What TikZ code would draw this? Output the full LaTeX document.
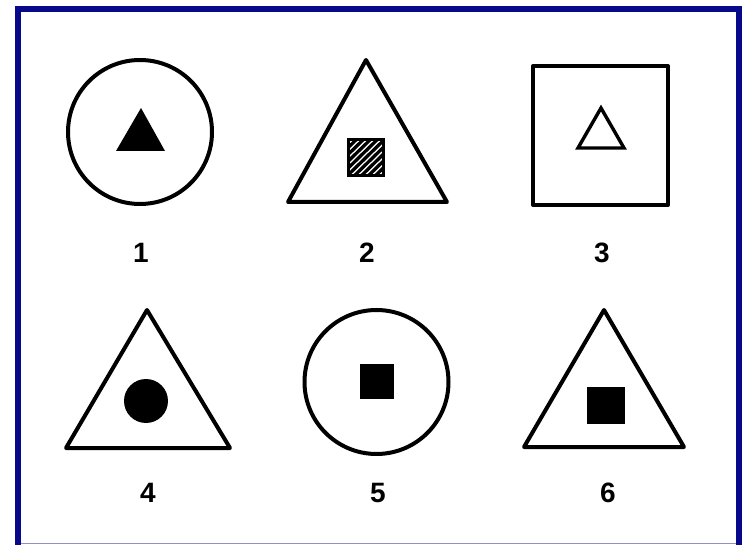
\documentclass[tikz,border=0pt]{standalone}
\usepackage{fontspec}
\setmainfont{Liberation Sans}
\usepackage{xcolor}
\usetikzlibrary{calc}
\definecolor{frameblue}{RGB}{8,8,138}

\begin{document}
\begin{tikzpicture}[x=1pt, y=-1pt,
    outline/.style={draw=black, line width=4pt, line join=round},
    solid/.style={fill=black},
    hollow/.style={draw=black, line width=3.4pt, line join=miter},
    num/.style={inner sep=0pt, font=\fontsize{28}{28}\selectfont\bfseries}
]
    \useasboundingbox (0,0) rectangle (742,545);
    \fill[white] (0,0) rectangle (742,545);
    % blue frame
    \fill[frameblue] (15,6) rectangle (742,545);
    \fill[white] (21,12) rectangle (736,545);
    \draw[frameblue!45, line width=1.3pt] (21,543.3) -- (736,543.3);

    % top row
    \draw[outline] (140,132) circle (72);
    \fill[solid] (116,151) -- (165,151) -- (141,108) -- cycle;

    \draw[outline] (288,202) -- (447,202) -- (366,60) -- cycle;
    \begin{scope}
        \clip (348.5,139.5) rectangle (383.5,175.5);
        \foreach \k in {-49,-42,...,49}
            \draw[line width=3.3pt] (366+\k-21,178) -- (366+\k+21,137);
    \end{scope}
    \draw[line width=3pt] (348.5,139.5) rectangle (383.5,175.5);

    \draw[outline] (533,66) rectangle (668,205);
    \draw[hollow] (578,148) -- (624,148) -- (601,108) -- cycle;

    \node[num] (n1) at (141,253) {1};
    \node[num] (n2) at (367,253) {2};
    \node[num] (n3) at (602,253) {3};

    % bottom row
    \draw[outline] (66,448) -- (230,448) -- (147,310) -- cycle;
    \fill[solid] (146,401) circle (22);

    \draw[outline] (376.5,382) circle (72);
    \fill[solid] (360,364) rectangle (394,399);

    \draw[outline] (524,447) -- (684,447) -- (604,310) -- cycle;
    \fill[solid] (587,387) rectangle (625,424);

    \node[num] (n4) at (148,493) {4};
    \node[num] (n5) at (378,493) {5};
    \node[num] (n6) at (608,493) {6};
\end{tikzpicture}
\end{document}
